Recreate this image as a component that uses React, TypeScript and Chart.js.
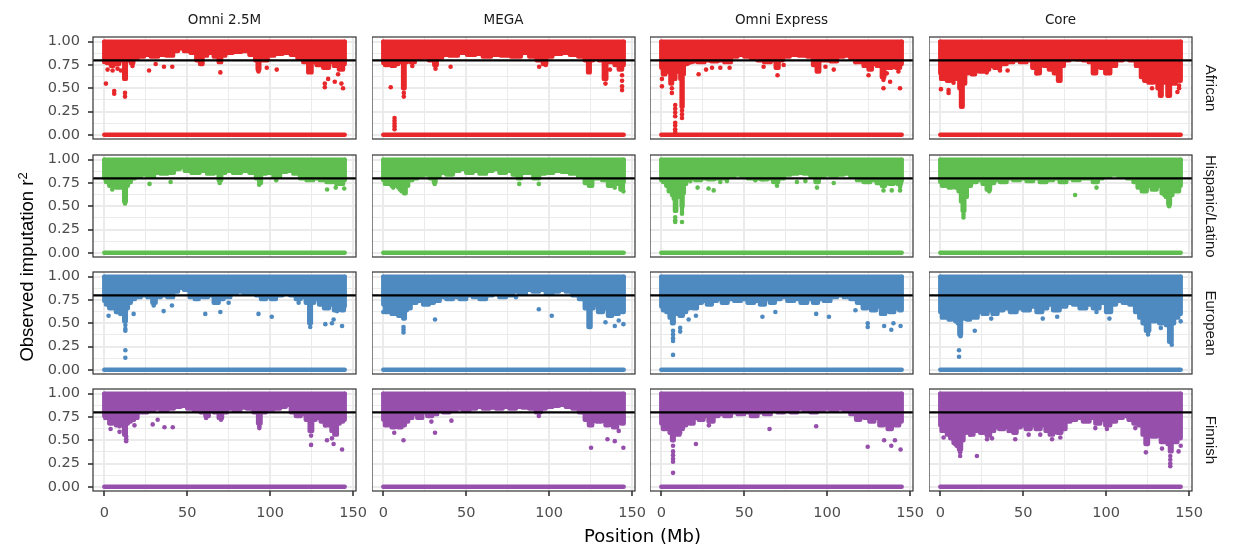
import React, { useEffect, useRef } from "react";
import { Chart, registerables } from "chart.js";

Chart.register(...registerables);

// ---------- categories / ticks ----------
const arrayNames = ["Omni 2.5M", "MEGA", "Omni Express", "Core"];
const populations = ["African", "Hispanic/Latino", "European", "Finnish"];
const xMajorTicks = [0, 50, 100, 150];
const yMajorTicks = [0, 0.25, 0.5, 0.75, 1];
const THRESHOLD = 0.8;
const CHROM_START = 0;
const CHROM_END = 145;
const X_MIN = -6.8;
const X_MAX = 151.8;
const Y_MIN = -0.045;
const Y_MAX = 1.05;

// ---------- data: lower edge of the dense band (x Mb, r2) and sparse points ----------
// African
const afrOmni25Env = [[0,0.78],[3,0.77],[5,0.74],[6,0.78],[8,0.76],[10,0.8],[11.5,0.8],[12.5,0.6],[13.5,0.8],[15,0.8],[17,0.77],[18,0.82],[22,0.84],[26,0.86],[30,0.84],[35,0.86],[40,0.85],[43,0.9],[46,0.93],[50,0.9],[54,0.88],[57,0.8],[58.5,0.76],[60,0.85],[64,0.88],[68,0.84],[70,0.78],[71,0.85],[75,0.88],[80,0.89],[85,0.9],[90,0.86],[92,0.8],[93,0.7],[94,0.82],[97,0.8],[100,0.85],[105,0.87],[110,0.88],[115,0.86],[118,0.82],[122,0.78],[124,0.67],[126,0.78],[130,0.75],[134,0.72],[137,0.78],[140,0.74],[143,0.7],[145,0.76]];
const afrOmni25Out = [[1,0.55],[2,0.7],[5,0.69],[6,0.47],[6,0.44],[8,0.71],[10,0.69],[12.5,0.45],[12.5,0.41],[17,0.74],[27,0.69],[31,0.76],[36,0.73],[41,0.73],[70,0.67],[93,0.68],[98,0.72],[104,0.7],[133,0.51],[133,0.55],[135,0.6],[139,0.57],[141,0.65],[143,0.55],[144,0.5],[132,0.75]];
const afrMegaEnv = [[0,0.77],[2,0.75],[4,0.78],[6,0.74],[8,0.76],[10,0.78],[11.5,0.78],[12.4,0.5],[13.3,0.78],[15,0.8],[18,0.78],[20,0.82],[25,0.83],[30,0.8],[31.5,0.75],[33,0.83],[38,0.86],[42,0.85],[48,0.88],[53,0.86],[58,0.87],[62,0.84],[68,0.86],[74,0.85],[80,0.84],[86,0.88],[90,0.84],[95,0.8],[97.5,0.76],[99,0.84],[105,0.87],[110,0.88],[115,0.86],[120,0.84],[123,0.8],[124,0.67],[125,0.8],[128,0.82],[132,0.8],[134,0.6],[135,0.79],[138,0.78],[141,0.75],[143,0.7],[145,0.75]];
const afrMegaOut = [[4.5,0.51],[6.8,0.18],[6.8,0.15],[6.8,0.12],[6.8,0.09],[6.8,0.06],[12.4,0.41],[12.4,0.45],[17.5,0.74],[31.5,0.71],[40.6,0.73],[94,0.73],[98,0.75],[134,0.55],[136.7,0.7],[144,0.64],[144,0.58],[144,0.52],[144,0.48]];
const afrExpEnv = [[0,0.72],[2,0.65],[3,0.72],[5,0.68],[6,0.55],[7,0.65],[8,0.6],[9,0.68],[11,0.72],[12,0.6],[12.5,0.3],[13.2,0.65],[14,0.76],[17,0.78],[20,0.79],[24,0.78],[28,0.8],[32,0.79],[36,0.8],[40,0.78],[44,0.84],[48,0.86],[52,0.84],[56,0.82],[60,0.8],[64,0.78],[68,0.8],[70,0.72],[71.5,0.8],[75,0.84],[80,0.86],[86,0.85],[90,0.84],[93,0.75],[94.5,0.68],[96,0.8],[100,0.8],[104,0.79],[108,0.84],[112,0.85],[116,0.82],[120,0.78],[124,0.74],[126,0.7],[128,0.76],[132,0.74],[134,0.62],[135,0.75],[138,0.72],[140,0.78],[143,0.72],[145,0.76]];
const afrExpOut = [[0.4,0.6],[0.4,0.52],[6.4,0.45],[6.4,0.5],[8.4,0.32],[8.4,0.28],[8.4,0.24],[8.4,0.2],[8.4,0.13],[8.4,0.1],[8.4,0.06],[8.4,0.03],[12.5,0.22],[12.5,0.18],[12.5,0.26],[16.5,0.77],[22.5,0.65],[27,0.7],[30.6,0.72],[35.6,0.72],[41.2,0.72],[61.7,0.73],[70.1,0.64],[73.8,0.75],[99,0.73],[104,0.7],[117,0.78],[125,0.64],[134,0.59],[134,0.5],[138,0.57],[144,0.5],[143,0.68],[136,0.66]];
const afrCoreEnv = [[0,0.66],[1,0.6],[3,0.64],[5,0.58],[7,0.62],[9,0.6],[11,0.62],[12,0.5],[13,0.3],[14,0.55],[16,0.66],[18,0.7],[20,0.65],[22,0.72],[25,0.68],[28,0.7],[31,0.74],[34,0.72],[38,0.76],[42,0.78],[46,0.8],[50,0.78],[54,0.8],[57,0.72],[59,0.66],[61,0.76],[64,0.74],[67,0.7],[70,0.66],[72,0.58],[73,0.74],[76,0.8],[80,0.82],[84,0.81],[88,0.8],[91,0.78],[93,0.66],[95,0.78],[98,0.72],[101,0.66],[104,0.74],[108,0.8],[112,0.83],[116,0.8],[120,0.74],[122,0.62],[124,0.58],[127,0.56],[130,0.6],[132,0.5],[133,0.42],[134,0.6],[136,0.56],[138,0.42],[139,0.58],[141,0.55],[143,0.62],[145,0.58]];
const afrCoreOut = [[0.4,0.49],[5,0.45],[5,0.48],[8,0.56],[28,0.67],[36,0.69],[40.6,0.69],[58,0.66],[100.5,0.67],[127.7,0.5],[144,0.5],[144,0.53],[143,0.46]];

// Hispanic/Latino
const hisOmni25Env = [[0,0.8],[2,0.76],[4,0.72],[6,0.74],[8,0.7],[10,0.72],[11.5,0.7],[12.5,0.55],[13.5,0.72],[15,0.76],[17,0.8],[20,0.82],[24,0.84],[28,0.82],[32,0.86],[36,0.85],[40,0.86],[44,0.9],[47,0.92],[50,0.88],[55,0.86],[60,0.88],[64,0.85],[68,0.86],[70,0.78],[71,0.86],[75,0.88],[80,0.86],[85,0.88],[90,0.86],[93,0.8],[94,0.75],[95,0.85],[100,0.86],[104,0.82],[108,0.87],[112,0.88],[116,0.85],[120,0.8],[124,0.78],[128,0.8],[132,0.78],[136,0.76],[140,0.78],[143,0.74],[145,0.78]];
const hisOmni25Out = [[4.8,0.68],[12.5,0.53],[12.5,0.57],[27.3,0.74],[40,0.76],[69.6,0.75],[93.4,0.73],[103.7,0.78],[134.4,0.68],[139.6,0.7],[144.7,0.69],[140,0.74],[5,0.77]];
const hisMegaEnv = [[0,0.78],[2,0.74],[4,0.76],[6,0.72],[8,0.74],[10,0.7],[12,0.66],[13,0.64],[14,0.72],[16,0.78],[19,0.8],[22,0.83],[26,0.84],[30,0.8],[31,0.76],[32,0.82],[36,0.86],[40,0.84],[44,0.88],[48,0.9],[52,0.86],[56,0.88],[60,0.85],[64,0.88],[68,0.9],[72,0.86],[76,0.88],[80,0.84],[82,0.8],[84,0.86],[88,0.86],[93,0.8],[95,0.85],[100,0.86],[105,0.88],[110,0.87],[115,0.85],[120,0.82],[123,0.75],[125,0.72],[127,0.8],[130,0.8],[134,0.78],[137,0.72],[139,0.78],[142,0.74],[144,0.68],[145,0.76]];
const hisMegaOut = [[31,0.74],[82,0.74],[93.8,0.74],[139.6,0.7],[144.8,0.66],[6,0.7],[10,0.68]];
const hisExpEnv = [[0,0.78],[2,0.76],[4,0.72],[5,0.66],[6,0.7],[7,0.62],[8,0.58],[8.5,0.45],[9.5,0.6],[11,0.66],[12,0.62],[12.5,0.5],[13.2,0.64],[14,0.74],[16,0.78],[19,0.8],[22,0.78],[26,0.8],[30,0.79],[34,0.8],[38,0.8],[42,0.82],[46,0.84],[50,0.83],[54,0.8],[58,0.8],[62,0.79],[66,0.8],[69,0.76],[72,0.8],[76,0.84],[80,0.85],[84,0.86],[88,0.85],[92,0.82],[94,0.76],[96,0.82],[100,0.84],[104,0.83],[108,0.84],[112,0.85],[116,0.82],[120,0.78],[124,0.76],[128,0.78],[132,0.75],[134,0.72],[136,0.77],[139,0.74],[141,0.78],[144,0.74],[145,0.77]];
const hisExpOut = [[8.4,0.38],[8.4,0.35],[8.4,0.33],[12.5,0.47],[12.5,0.44],[12.5,0.42],[12.5,0.33],[17.5,0.77],[21.9,0.7],[28.5,0.69],[31.6,0.67],[35.6,0.76],[39.6,0.77],[56.7,0.78],[61.3,0.79],[69.8,0.72],[81.8,0.76],[86.9,0.77],[93.9,0.7],[104,0.75],[130,0.75],[134,0.67],[139,0.67],[144,0.67],[144,0.71]];
const hisCoreEnv = [[0,0.76],[2,0.72],[4,0.74],[6,0.7],[8,0.72],[10,0.7],[12,0.66],[13,0.55],[14,0.45],[15,0.6],[17,0.72],[20,0.76],[24,0.78],[27,0.74],[29,0.68],[31,0.75],[34,0.78],[38,0.76],[42,0.8],[46,0.78],[50,0.8],[54,0.77],[58,0.8],[62,0.76],[66,0.78],[70,0.8],[74,0.76],[78,0.8],[82,0.78],[86,0.8],[90,0.8],[94,0.76],[96,0.8],[100,0.82],[105,0.84],[110,0.82],[115,0.8],[118,0.76],[120,0.7],[123,0.66],[126,0.72],[129,0.68],[132,0.72],[135,0.64],[137,0.6],[138,0.52],[139,0.62],[141,0.7],[143,0.66],[145,0.72]];
const hisCoreOut = [[14,0.41],[14,0.38],[29.5,0.66],[81.3,0.62],[94.2,0.7],[135.2,0.62],[138,0.5]];

// European
const eurOmni25Env = [[0,0.74],[2,0.7],[4,0.66],[6,0.68],[8,0.62],[10,0.64],[11.5,0.66],[12.5,0.52],[13.5,0.66],[15,0.72],[17,0.76],[20,0.78],[24,0.8],[28,0.78],[30,0.72],[32,0.78],[36,0.8],[40,0.78],[43,0.84],[46,0.88],[50,0.86],[53,0.78],[56,0.76],[58,0.82],[61,0.78],[64,0.8],[68,0.72],[70,0.76],[74,0.78],[78,0.82],[82,0.84],[86,0.82],[90,0.83],[93,0.8],[96,0.76],[99,0.78],[102,0.76],[105,0.8],[110,0.82],[114,0.8],[117,0.76],[120,0.78],[123,0.72],[124.2,0.5],[125,0.72],[128,0.76],[131,0.7],[134,0.66],[137,0.7],[140,0.64],[142,0.7],[144,0.64],[145,0.68]];
const eurOmni25Out = [[2.6,0.58],[7.7,0.62],[9.7,0.6],[12.7,0.48],[12.7,0.44],[12.7,0.42],[12.7,0.21],[12.7,0.13],[17.7,0.6],[29.8,0.69],[35.8,0.63],[40.8,0.69],[60.9,0.6],[70,0.62],[75,0.72],[93,0.6],[101,0.57],[117.2,0.72],[124.2,0.46],[133.3,0.49],[137.3,0.5],[138.3,0.54],[140.4,0.63],[143.4,0.47]];
const eurMegaEnv = [[0,0.7],[2,0.62],[4,0.66],[6,0.6],[8,0.64],[10,0.58],[11.5,0.62],[12.5,0.55],[13.5,0.64],[15,0.66],[18,0.72],[22,0.74],[26,0.7],[29,0.72],[32,0.74],[36,0.78],[40,0.76],[44,0.78],[48,0.76],[52,0.8],[56,0.78],[60,0.76],[64,0.8],[68,0.82],[72,0.78],[76,0.8],[80,0.84],[84,0.82],[88,0.86],[92,0.84],[96,0.86],[100,0.82],[104,0.84],[108,0.86],[112,0.84],[116,0.8],[120,0.76],[123,0.66],[124.5,0.46],[125.5,0.66],[128,0.7],[131,0.62],[134,0.66],[137,0.58],[139,0.64],[141,0.6],[143,0.64],[145,0.62]];
const eurMegaOut = [[0,0.62],[10.9,0.58],[12.2,0.46],[12.2,0.43],[12.2,0.4],[31.2,0.54],[80,0.78],[93.8,0.65],[101.6,0.58],[134,0.51],[139.6,0.47],[144.8,0.49],[142,0.53]];
const eurExpEnv = [[0,0.68],[2,0.64],[4,0.62],[6,0.56],[7,0.5],[8,0.6],[10,0.64],[12,0.58],[14,0.62],[16,0.66],[18,0.7],[20,0.66],[23,0.72],[26,0.74],[29,0.7],[32,0.74],[35,0.76],[38,0.72],[42,0.76],[46,0.74],[50,0.76],[54,0.72],[58,0.74],[61,0.7],[64,0.76],[67,0.72],[70,0.76],[74,0.78],[78,0.74],[82,0.76],[86,0.72],[90,0.76],[93,0.72],[96,0.76],[100,0.74],[104,0.78],[108,0.8],[112,0.78],[116,0.76],[120,0.72],[123,0.66],[125,0.7],[128,0.64],[131,0.68],[134,0.6],[136,0.66],[139,0.62],[142,0.66],[145,0.64]];
const eurExpOut = [[7.1,0.42],[7.1,0.38],[7.1,0.34],[7.1,0.31],[7.1,0.16],[11.4,0.41],[11.4,0.45],[16.5,0.54],[20.9,0.58],[61,0.57],[68.8,0.62],[93.4,0.6],[101.1,0.57],[117.1,0.64],[124.5,0.46],[124.5,0.5],[134.4,0.47],[138.7,0.43],[144.3,0.47],[140,0.5]];
const eurCoreEnv = [[0,0.62],[2,0.56],[4,0.6],[6,0.54],[8,0.58],[10,0.52],[11,0.5],[12,0.38],[13,0.55],[15,0.58],[17,0.54],[19,0.6],[21,0.56],[24,0.62],[27,0.6],[30,0.64],[33,0.6],[36,0.64],[40,0.66],[44,0.62],[48,0.66],[52,0.64],[56,0.68],[60,0.62],[63,0.66],[66,0.7],[70,0.64],[74,0.68],[78,0.72],[82,0.7],[86,0.66],[90,0.7],[94,0.66],[98,0.72],[102,0.62],[104,0.7],[108,0.74],[112,0.72],[116,0.7],[119,0.62],[121,0.56],[123,0.5],[125,0.42],[127,0.55],[129,0.52],[131,0.58],[133,0.5],[135,0.55],[137,0.48],[139,0.3],[140,0.5],[142,0.56],[145,0.6]];
const eurCoreOut = [[11.3,0.21],[11.3,0.14],[12.2,0.36],[20.8,0.42],[30.7,0.55],[61.8,0.55],[70.5,0.57],[94.2,0.62],[102,0.55],[125.3,0.38],[133,0.45],[139.6,0.27],[145,0.52]];

// Finnish
const finOmni25Env = [[0,0.76],[2,0.74],[4,0.68],[6,0.7],[8,0.66],[10,0.68],[11.5,0.66],[12.5,0.56],[13.5,0.68],[15,0.7],[17,0.72],[19,0.74],[21,0.8],[24,0.8],[28,0.82],[32,0.84],[36,0.82],[40,0.84],[44,0.86],[48,0.87],[52,0.84],[56,0.82],[60,0.8],[62,0.76],[64,0.82],[68,0.8],[70,0.74],[72,0.8],[76,0.84],[80,0.82],[84,0.85],[88,0.84],[92,0.8],[93.5,0.68],[95,0.8],[100,0.83],[104,0.84],[108,0.86],[111,0.88],[114,0.8],[117,0.76],[120,0.78],[123,0.72],[124.7,0.6],[126,0.72],[129,0.74],[132,0.7],[134,0.66],[136,0.7],[138,0.6],[139.5,0.56],[141,0.68],[143,0.7],[145,0.72]];
const finOmni25Out = [[0.6,0.74],[3.8,0.62],[6.2,0.72],[9.2,0.65],[9.2,0.59],[11.8,0.61],[13.2,0.54],[13.2,0.51],[13.2,0.49],[18.2,0.66],[29.2,0.67],[32.2,0.72],[36.3,0.64],[41.3,0.64],[61.4,0.74],[70.4,0.72],[93.5,0.65],[93.5,0.63],[124.7,0.45],[124.7,0.55],[133.3,0.66],[134.3,0.5],[137.3,0.52],[138.3,0.46],[143.4,0.4],[139.3,0.6]];
const finMegaEnv = [[0,0.72],[2,0.66],[4,0.7],[6,0.64],[8,0.68],[10,0.64],[12,0.66],[14,0.7],[16,0.74],[19,0.78],[22,0.74],[25,0.8],[28,0.76],[31,0.78],[34,0.82],[38,0.8],[42,0.82],[46,0.84],[50,0.82],[54,0.84],[58,0.86],[62,0.84],[66,0.85],[70,0.84],[74,0.86],[78,0.84],[82,0.86],[86,0.85],[90,0.84],[94,0.8],[96,0.84],[100,0.86],[104,0.87],[108,0.88],[112,0.86],[116,0.84],[120,0.8],[123,0.72],[125,0.66],[127,0.74],[130,0.7],[133,0.74],[135,0.66],[137,0.72],[140,0.64],[142,0.7],[145,0.68]];
const finMegaOut = [[2.25,0.7],[6.6,0.58],[12.2,0.5],[29,0.7],[31.2,0.58],[41.1,0.71],[93.8,0.76],[125.3,0.42],[135.2,0.51],[139.6,0.49],[144.8,0.42],[142,0.6]];
const finExpEnv = [[0,0.68],[2,0.62],[4,0.66],[6,0.58],[7,0.5],[8,0.6],[10,0.56],[12,0.62],[14,0.66],[16,0.72],[18,0.68],[21,0.74],[24,0.72],[27,0.76],[30,0.7],[33,0.76],[36,0.78],[40,0.76],[44,0.8],[48,0.78],[52,0.8],[56,0.76],[60,0.8],[64,0.78],[68,0.82],[72,0.8],[76,0.82],[80,0.8],[84,0.84],[88,0.82],[92,0.8],[96,0.82],[100,0.84],[104,0.82],[108,0.84],[112,0.82],[116,0.78],[119,0.72],[121,0.76],[124,0.74],[127,0.7],[130,0.74],[133,0.66],[135,0.72],[138,0.62],[140,0.7],[142,0.66],[145,0.7]];
const finExpOut = [[7.1,0.44],[7.1,0.38],[7.1,0.34],[7.1,0.3],[7.1,0.27],[7.1,0.15],[11.4,0.58],[20.9,0.46],[28.7,0.66],[65.3,0.62],[93.4,0.65],[124.5,0.43],[134.4,0.5],[138.7,0.44],[140.9,0.5],[144.3,0.4]];
const finCoreEnv = [[0,0.66],[1.5,0.6],[3,0.64],[5,0.56],[7,0.52],[9,0.47],[10.5,0.44],[12,0.4],[13,0.5],[15,0.58],[17,0.62],[19,0.56],[21,0.6],[23,0.62],[25,0.58],[27,0.62],[29,0.55],[31,0.6],[34,0.64],[37,0.62],[40,0.64],[43,0.6],[45,0.58],[47,0.64],[50,0.66],[53,0.62],[56,0.66],[59,0.62],[62,0.66],[65,0.6],[67,0.56],[69,0.62],[72,0.58],[74,0.62],[77,0.7],[80,0.72],[84,0.74],[88,0.7],[92,0.74],[95,0.68],[98,0.72],[101,0.66],[104,0.7],[108,0.74],[112,0.76],[115,0.72],[118,0.68],[121,0.66],[123,0.56],[124.5,0.46],[126,0.58],[129,0.54],[132,0.6],[134,0.48],[136,0.56],[138,0.46],[139,0.38],[140,0.52],[142,0.48],[144,0.56],[145,0.52]];
const finCoreOut = [[2,0.53],[9,0.46],[12,0.37],[12,0.33],[18.1,0.56],[22.1,0.33],[24.1,0.6],[28.2,0.51],[31.2,0.52],[41.2,0.6],[45.2,0.51],[53.3,0.56],[60.3,0.56],[67.4,0.51],[72.4,0.53],[93.5,0.63],[100.5,0.62],[117.6,0.63],[124,0.37],[133.7,0.41],[138.7,0.33],[138.7,0.29],[138.7,0.25],[138.7,0.22],[143.7,0.38],[145,0.44]];

const ENVELOPES = [
  [afrOmni25Env, afrMegaEnv, afrExpEnv, afrCoreEnv],
  [hisOmni25Env, hisMegaEnv, hisExpEnv, hisCoreEnv],
  [eurOmni25Env, eurMegaEnv, eurExpEnv, eurCoreEnv],
  [finOmni25Env, finMegaEnv, finExpEnv, finCoreEnv],
];
const OUTLIERS = [
  [afrOmni25Out, afrMegaOut, afrExpOut, afrCoreOut],
  [hisOmni25Out, hisMegaOut, hisExpOut, hisCoreOut],
  [eurOmni25Out, eurMegaOut, eurExpOut, eurCoreOut],
  [finOmni25Out, finMegaOut, finExpOut, finCoreOut],
];

// ---------- styling / layout ----------
const POP_COLORS = ["#E8272A", "#60BE50", "#4E8AC0", "#9650AB"];
const PANEL_LEFT = [93, 372, 650, 929];
const PANEL_TOP = [37, 155, 272, 389];
const PANEL_W = 263;
const PANEL_H = 102;
const TICK_FONT = { family: "DejaVu Sans", size: 14.5 };

const withMinors = (majors: number[]) => {
  const out: number[] = [];
  majors.forEach((v, i) => {
    out.push(v);
    if (i < majors.length - 1) out.push((v + majors[i + 1]) / 2);
  });
  return out;
};
const xAllTicks = withMinors(xMajorTicks);
const yAllTicks = withMinors(yMajorTicks);
const isMajor = (list: number[], v: number) => list.some((m) => Math.abs(m - v) < 1e-9);

const borderPlugin = {
  id: "panelBorder",
  afterDatasetsDraw(chart: any) {
    const { ctx, chartArea: a } = chart;
    ctx.save();
    ctx.strokeStyle = "#333333";
    ctx.lineWidth = 1.2;
    ctx.strokeRect(a.left, a.top, a.right - a.left, a.bottom - a.top);
    ctx.restore();
  },
};

function Panel({ r, c }: { r: number; c: number }) {
  const ref = useRef<HTMLCanvasElement>(null);
  const showY = c === 0;
  const showX = r === populations.length - 1;
  const YW = showY ? 60 : 0;
  const XH = showX ? 40 : 0;
  const PT = 20, PB = 20, PR = 16;
  const W = YW + PANEL_W + PR;
  const H = PT + PANEL_H + XH + PB;

  useEffect(() => {
    const col = POP_COLORS[r];
    const toPts = (arr: number[][]) => arr.map(([x, y]) => ({ x, y }));
    const env = [{ x: CHROM_START, y: 1 }, ...toPts(ENVELOPES[r][c]), { x: CHROM_END, y: 1 }];
    const chart = new Chart(ref.current as HTMLCanvasElement, {
      type: "scatter",
      data: {
        datasets: [
          {
            data: [{ x: X_MIN, y: THRESHOLD }, { x: X_MAX, y: THRESHOLD }],
            showLine: true, borderColor: "#000000", borderWidth: 2.2, pointRadius: 0, order: 0,
          },
          {
            data: toPts(OUTLIERS[r][c]),
            showLine: false, pointRadius: 2.3, pointBorderWidth: 0, backgroundColor: col, pointBackgroundColor: col, order: 1,
          },
          {
            data: env,
            showLine: true, stepped: "middle", fill: { value: 1 }, backgroundColor: col, borderColor: col, borderWidth: 4.4,
            borderJoinStyle: "round", borderCapStyle: "round", pointRadius: 0, order: 2,
          },
          {
            data: [{ x: CHROM_START, y: 1 }, { x: CHROM_END, y: 1 }],
            showLine: true, borderColor: col, borderWidth: 4.4, borderCapStyle: "round", pointRadius: 0, order: 3,
          },
          {
            data: [{ x: CHROM_START, y: 0 }, { x: CHROM_END, y: 0 }],
            showLine: true, borderColor: col, borderWidth: 4.4, borderCapStyle: "round", pointRadius: 0, order: 4,
          },
        ],
      } as any,
      options: {
        animation: false,
        responsive: false,
        maintainAspectRatio: false,
        devicePixelRatio: 1,
        events: [],
        layout: { padding: { top: PT, bottom: PB, left: 0, right: PR }, autoPadding: false },
        plugins: { legend: { display: false }, tooltip: { enabled: false }, title: { display: false } },
        scales: {
          x: {
            type: "linear", min: X_MIN, max: X_MAX,
            afterBuildTicks: (s: any) => { s.ticks = xAllTicks.map((v) => ({ value: v })); },
            afterFit: (s: any) => { s.height = XH; s.paddingLeft = 0; s.paddingRight = 0; },
            ticks: {
              display: showX, autoSkip: false, maxRotation: 0, minRotation: 0, padding: 9,
              font: TICK_FONT, color: "#4d4d4d",
              callback: (v: any) => (isMajor(xMajorTicks, Number(v)) ? String(v) : ""),
            },
            grid: {
              color: "#ebebeb",
              lineWidth: (ctx: any) => (ctx.tick && isMajor(xMajorTicks, ctx.tick.value) ? 2 : 1),
              drawTicks: showX, tickLength: 5, tickWidth: 1.6,
              tickColor: (ctx: any) => (ctx.tick && isMajor(xMajorTicks, ctx.tick.value) ? "#333333" : "rgba(0,0,0,0)"),
            },
            border: { display: false },
          },
          y: {
            type: "linear", min: Y_MIN, max: Y_MAX,
            afterBuildTicks: (s: any) => { s.ticks = yAllTicks.map((v) => ({ value: v })); },
            afterFit: (s: any) => { s.width = YW; s.paddingTop = 0; s.paddingBottom = 0; },
            ticks: {
              display: showY, autoSkip: false, padding: 8,
              font: TICK_FONT, color: "#4d4d4d",
              callback: (v: any) => (isMajor(yMajorTicks, Number(v)) ? Number(v).toFixed(2) : ""),
            },
            grid: {
              color: "#ebebeb",
              lineWidth: (ctx: any) => (ctx.tick && isMajor(yMajorTicks, ctx.tick.value) ? 2 : 1),
              drawTicks: showY, tickLength: 5, tickWidth: 1.6,
              tickColor: (ctx: any) => (ctx.tick && isMajor(yMajorTicks, ctx.tick.value) ? "#333333" : "rgba(0,0,0,0)"),
            },
            border: { display: false },
          },
        },
      } as any,
      plugins: [borderPlugin],
    });
    return () => chart.destroy();
  }, []);

  return (
    <canvas
      ref={ref}
      width={W}
      height={H}
      style={{ position: "absolute", left: PANEL_LEFT[c] - YW, top: PANEL_TOP[r] - PT, width: W, height: H }}
    />
  );
}

export default function App() {
  return (
    <div style={{ position: "absolute", left: 0, top: 0, width: 1233, height: 552, background: "#ffffff", overflow: "hidden" }}>
      {populations.map((_, r) => arrayNames.map((__, c) => <Panel key={`${r}-${c}`} r={r} c={c} />))}
      {arrayNames.map((name, c) => (
        <div key={name} style={{
          position: "absolute", left: PANEL_LEFT[c], top: 9, width: PANEL_W, height: 20, lineHeight: "20px",
          textAlign: "center", fontFamily: "DejaVu Sans", fontSize: 13.5, color: "#1a1a1a", whiteSpace: "nowrap",
        }}>{name}</div>
      ))}
      {populations.map((p, r) => (
        <div key={p} style={{
          position: "absolute", left: 1211 - PANEL_H / 2, top: PANEL_TOP[r] + PANEL_H / 2 - 10, width: PANEL_H, height: 20,
          lineHeight: "20px", textAlign: "center", fontFamily: "Liberation Sans", fontSize: 15, color: "#1a1a1a",
          transform: "rotate(90deg)", whiteSpace: "nowrap",
        }}>{p}</div>
      ))}
      <div style={{
        position: "absolute", left: 27 - 150, top: 267 - 12, width: 300, height: 24, lineHeight: "24px",
        textAlign: "center", fontFamily: "Liberation Sans", fontSize: 18.5, color: "#000", transform: "rotate(-90deg)", whiteSpace: "nowrap",
      }}>Observed imputation r<sup style={{ fontSize: 13, verticalAlign: "6px", lineHeight: 0 }}>2</sup></div>
      <div style={{
        position: "absolute", left: PANEL_LEFT[0], top: 536 - 12, width: PANEL_LEFT[3] + PANEL_W - PANEL_LEFT[0], height: 24,
        lineHeight: "24px", textAlign: "center", fontFamily: "DejaVu Sans", fontSize: 18, color: "#000", whiteSpace: "nowrap",
      }}>Position (Mb)</div>
    </div>
  );
}
